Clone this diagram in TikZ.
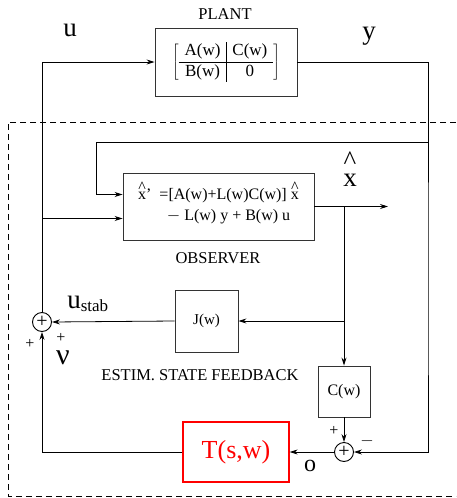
\documentclass[tikz,border=0pt]{standalone}
\usepackage{fontspec}
\setmainfont{Liberation Serif}
\usetikzlibrary{positioning,arrows.meta,calc}
\definecolor{tred}{HTML}{FF0000}
\definecolor{lgrey}{HTML}{333333}
\newcommand{\hx}[1][0.45em]{\leavevmode\hbox{\ooalign{x\cr\hidewidth\raise#1\hbox{\textasciicircum}\hidewidth\cr}}}
\tikzset{
  blk/.style={rectangle, draw=#1, line width=0.9pt, align=center,
              font=\fontsize{16}{21}\selectfont, inner sep=2pt},
  blk/.default=lgrey,
  sumc/.style={circle, draw, line width=0.9pt, minimum size=19pt,
               inner sep=0pt, font=\fontsize{20}{20}\selectfont},
  ar/.style={-{Stealth[length=8pt,width=5pt]}, line width=0.8pt},
  lbl/.style={font=\fontsize{16.5}{18}\selectfont},
  sig/.style={font=\fontsize{27}{29}\selectfont},
  pm/.style={font=\fontsize{16}{16}\selectfont, inner sep=0pt},
}
\begin{document}
\begin{tikzpicture}[x=1pt,y=-1pt]
  \useasboundingbox (0,0) rectangle (456,498);
  % boundary of the controller
  \draw[dashed, dash pattern=on 6pt off 4pt, line width=0.6pt]
    (456,122) -- (8,122) -- (8,496) -- (456,496);

  % blocks
  \node[blk, minimum width=142pt, minimum height=68pt] (plant) at (226,62)
    {$\left[\mbox{\fontsize{17}{19}\selectfont\begin{tabular}{c|c}A(w) & C(w)\\[1pt]\hline B(w) & 0\end{tabular}}\right]$};
  \node[lbl] (plantlbl) at (225,14) {PLANT};
  \node[blk, minimum width=191pt, minimum height=67pt] (obs) at (218.5,206.5)
    {\hx'\ \ =[A(w)+L(w)C(w)] \hx\\ \ \ \ \ \ $-$ L(w) y + B(w) u};
  \node[lbl] (obslbl) at (218,258) {OBSERVER};
  \node[blk, minimum width=63pt, minimum height=62pt, font=\fontsize{15}{17}\selectfont] (J) at (206.5,321) {J(w)};
  \node[lbl] (fblbl) at (200,375) {ESTIM. STATE FEEDBACK};
  \node[blk, minimum width=52pt, minimum height=51pt] (C) at (344,391.5) {C(w)};
  \node[blk=tred, text=tred, line width=1.3pt, minimum width=106pt, minimum height=60pt,
        font=\fontsize{26}{28}\selectfont] (T) at (236,452) {T(s,w)};
  \node[sumc] (s1) at (42,322) {+};
  \node[sumc] (s2) at (344,452) {+};

  % signal labels
  \node[sig] (ulbl) at (70,30) {u};
  \node[sig] (ylbl) at (369,36) {y};
  \node[sig] (xlbl) at (350,180) {\hx[0.6em]};
  \node[sig] (ustab) at (88,304) {u\textsubscript{\fontsize{17}{17}\selectfont stab}};
  \node[sig, font=\fontsize{30}{30}\selectfont] (nulbl) at (63,358) {ν};
  \node[sig, font=\fontsize{24}{26}\selectfont] (olbl) at (310,466) {o};
  \node[pm] (p1) at (61,338) {+};
  \node[pm] (p2) at (30,344) {+};
  \node[pm] (p3) at (334,431) {+};
  \node[pm] (m1) at (367,441) {$-$};

  \coordinate (yr) at (428,300);
  \coordinate (ytop) at (428,142);
  \coordinate (ykink) at (96,142);
  \coordinate (obsy) at ([yshift=12pt]obs.west);
  \coordinate (obsu) at ([yshift=-12pt]obs.west);
  \coordinate (xout) at (388,206.5);
  \coordinate (xbr) at (344,206.5);

  % connectors
  \draw[ar] (s1.north) |- (plant.west);
  \draw[ar] (plant.east) -| (yr) |- (s2.east);
  \draw[ar] (ytop) -- (ykink) |- (obsy);
  \draw[ar] (s1 |- obsu) -- (obsu);
  \draw[ar] (obs.east) -- (xout);
  \draw[ar] (xbr) -- (C.north);
  \draw[ar] (xbr |- J.east) -- (J.east);
  \draw[ar] (J.west) -- (s1.east);
  \draw[ar] (C.south) -- (s2.north);
  \draw[ar] (s2.west) -- (T.east);
  \draw[ar] (T.west) -| (s1.south);
\end{tikzpicture}
\end{document}
